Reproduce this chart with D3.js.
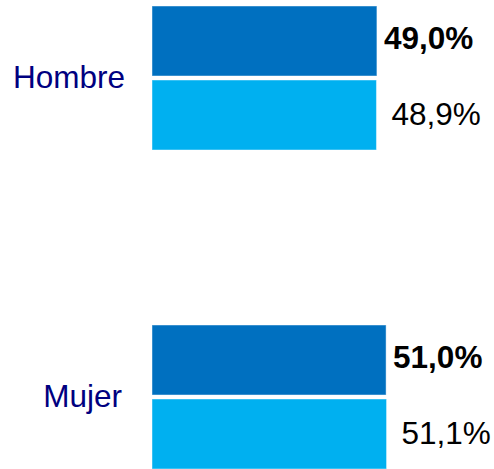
<!DOCTYPE html>
<html>
<head>
<meta charset="utf-8">
<script src="https://cdn.jsdelivr.net/npm/d3@7"></script>
<style>
  body { margin: 0; background: #fff; }
  svg text { font-family: "Liberation Sans", Arial, sans-serif; }
</style>
</head>
<body>
<div id="container"></div>
<script>
// datos
var categorias = ["Hombre", "Mujer"];
var series = ["actual", "anterior"];
var valoresActual = [49.0, 51.0];
var valoresAnterior = [48.9, 51.1];
var colores = ["#0070C0", "#00B0F0"];

var width = 494, height = 469;

var svg = d3.select("#container").append("svg")
  .attr("width", width)
  .attr("height", height);

// escalas
var yScale = d3.scaleBand()
  .domain(categorias)
  .range([6, 469])
  .paddingInner(0.5486)
  .paddingOuter(0);

var ySub = d3.scaleBand()
  .domain(series)
  .range([0, yScale.bandwidth()])
  .paddingInner(0.054)
  .paddingOuter(0);

var xScale = d3.scaleLinear()
  .domain([0, 100])
  .range([152, 152 + 459]);

var fmt = function(v) { return v.toFixed(1).replace(".", ",") + "%"; };

var datos = [];
categorias.forEach(function(c, i) {
  datos.push({cat: c, serie: series[0], valor: valoresActual[i], color: colores[0]});
  datos.push({cat: c, serie: series[1], valor: valoresAnterior[i], color: colores[1]});
});

// barras
svg.append("g").selectAll("rect")
  .data(datos)
  .enter()
  .append("rect")
  .attr("x", xScale(0))
  .attr("y", function(d) { return yScale(d.cat) + ySub(d.serie); })
  .attr("width", function(d) { return xScale(d.valor) - xScale(0); })
  .attr("height", ySub.bandwidth())
  .attr("fill", function(d) { return d.color; })
  .attr("stroke", "#ffffff")
  .attr("stroke-opacity", 0.45)
  .attr("stroke-width", 1);

// etiquetas de valor
svg.append("g").selectAll("text")
  .data(datos)
  .enter()
  .append("text")
  .attr("x", function(d) { return xScale(d.valor) + (d.serie === "actual" ? 7 : 15); })
  .attr("y", function(d) { return yScale(d.cat) + ySub(d.serie) + ySub.bandwidth() / 2 + (d.serie === "actual" ? 8 : 10); })
  .attr("font-size", "31.5px")
  .attr("font-weight", function(d) { return d.serie === "actual" ? "bold" : "normal"; })
  .attr("fill", "#000")
  .text(function(d) { return fmt(d.valor); });

// categorías
var finEtiqueta = [125, 122];
svg.append("g").selectAll("text")
  .data(categorias)
  .enter()
  .append("text")
  .attr("x", function(d, i) { return finEtiqueta[i]; })
  .attr("y", function(d) { return yScale(d) + yScale.bandwidth() / 2 + 10; })
  .attr("text-anchor", "end")
  .attr("font-size", "31.5px")
  .attr("fill", "#000080")
  .text(function(d) { return d; });
</script>
</body>
</html>
